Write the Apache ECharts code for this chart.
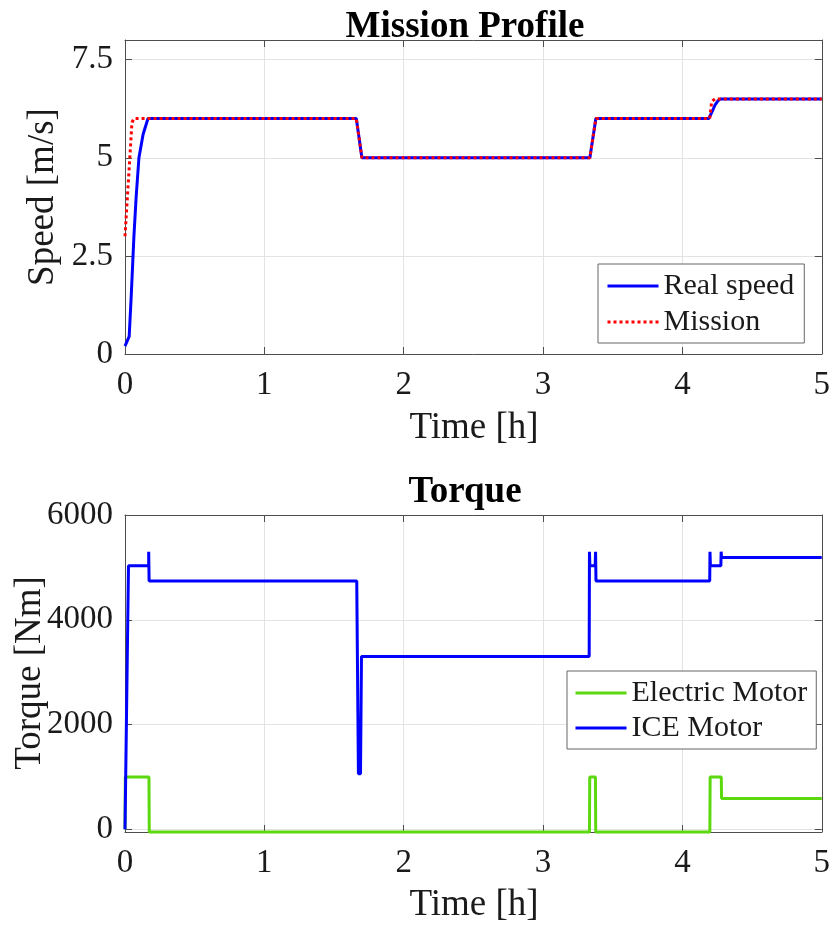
<!DOCTYPE html>
<html>
<head>
<meta charset="utf-8">
<script src="https://cdn.jsdelivr.net/npm/echarts@6/dist/echarts.min.js"></script>
<style>
  html, body { margin: 0; padding: 0; background: #fff; }
  #chart { width: 833px; height: 939px; }
</style>
</head>
<body>
<div id="chart"></div>
<script>
// ---- Mission profile: speed vs time ----
const realTime  = [0, 0.03, 0.045, 0.064, 0.08, 0.1, 0.13, 0.165, 1.66, 1.70, 3.336, 3.379, 4.19, 4.21, 4.235, 4.255, 4.275, 5];
const realSpeed = [0.2, 0.45, 1.5, 3.0, 4.0, 5.0, 5.6, 6.0, 6.0, 5.0, 5.0, 6.0, 6.0, 6.15, 6.35, 6.45, 6.5, 6.5];

const missionTime  = [0, 0.005, 0.05, 0.065, 1.66, 1.70, 3.336, 3.379, 4.196, 4.21, 4.234, 5];
const missionSpeed = [3.0, 3.0, 5.9, 6.0, 6.0, 5.0, 5.0, 6.0, 6.0, 6.43, 6.5, 6.5];

// ---- Torque vs time ----
const iceTime   = [0, 0.012, 0.025, 0.170, 0.170, 0.173, 1.663, 1.675, 1.690, 1.697, 3.331, 3.333, 3.336, 3.374, 3.377, 3.380, 4.196, 4.198, 4.201, 4.276, 4.278, 4.281, 5];
const iceTorque = [0, 0, 5030, 5030, 5300, 4740, 4740, 1060, 1060, 3300, 3300, 5300, 5030, 5030, 5300, 4740, 4740, 5300, 5030, 5030, 5300, 5190, 5190];

const emTime   = [0, 0.002, 0.172, 0.174, 3.333, 3.335, 3.376, 3.378, 4.197, 4.199, 4.279, 4.281, 5];
const emTorque = [0, 1000, 1000, -50, -50, 1000, 1000, -50, -50, 1000, 1000, 590, 590];

const timeTicks   = [0, 1, 2, 3, 4, 5];
const speedTicks  = [0, 2.5, 5, 7.5];
const torqueTicks = [0, 2000, 4000, 6000];

const zip = (xs, ys) => xs.map((x, i) => [x, ys[i]]);

const FONT = 'Liberation Serif';
const AX = '#4d4d4d';
const GRIDC = '#e3e3e3';
const TXT = '#1a1a1a';

function xAx(grid, pos, main) {
  return {
    type: 'value', gridIndex: grid, position: pos,
    min: 0, max: 5, interval: 1,
    axisLine: { show: true, onZero: false, lineStyle: { color: AX, width: 1 } },
    axisTick: { show: true, inside: true, length: 7, lineStyle: { color: AX } },
    axisLabel: { show: main, margin: 15, color: TXT, fontFamily: FONT, fontSize: 33,
                 formatter: v => (timeTicks.indexOf(v) >= 0 ? String(v) : '') },
    splitLine: { show: main, lineStyle: { color: GRIDC, width: 1 } }
  };
}

function yAx(grid, pos, main, extra) {
  return Object.assign({
    type: 'value', gridIndex: grid, position: pos,
    axisLine: { show: true, onZero: false, lineStyle: { color: AX, width: 1 } },
    axisTick: { show: true, inside: true, length: 7, lineStyle: { color: AX } },
    axisLabel: { show: main, margin: 12, color: TXT, fontFamily: FONT, fontSize: 33 },
    splitLine: { show: main, lineStyle: { color: GRIDC, width: 1 } }
  }, extra);
}

const speedAxis = { min: 0, max: 8, interval: 2.5 };
const torqueAxis = { min: -50, max: 6000 };

const topY = [yAx(0, 'left', true, speedAxis), yAx(0, 'right', false, speedAxis)];
topY[0].axisLabel.showMaxLabel = false;
topY[0].axisLabel.formatter = v => (speedTicks.indexOf(v) >= 0 ? String(v) : '');

const botY = [yAx(1, 'left', true, torqueAxis), yAx(1, 'right', false, torqueAxis)];
botY.forEach(a => { a.axisTick.customValues = torqueTicks; });
botY[0].axisLabel.customValues = torqueTicks;
botY[0].axisLabel.formatter = v => String(v);

const chart = echarts.init(document.getElementById('chart'), null, { renderer: 'canvas' });

const legendBase = {
  orient: 'vertical',
  itemWidth: 51, itemHeight: 30, itemGap: 6,
  padding: [7, 10, 6, 8],
  borderColor: '#666', borderWidth: 1, borderRadius: 0,
  backgroundColor: '#fff',
  itemStyle: { opacity: 0, borderWidth: 0 },
  lineStyle: { width: 3 },
  textStyle: { fontFamily: FONT, fontSize: 30, color: TXT, lineHeight: 30 }
};

chart.setOption({
  animation: false,
  backgroundColor: '#fff',
  grid: [
    { left: 125, width: 698, top: 40, height: 314 },
    { left: 125, width: 698, top: 515, height: 317 }
  ],
  xAxis: [xAx(0, 'bottom', true), xAx(0, 'top', false), xAx(1, 'bottom', true), xAx(1, 'top', false)],
  yAxis: [topY[0], topY[1], botY[0], botY[1]],
  legend: [
    Object.assign({}, legendBase, { left: 598, top: 264, data: ['Real speed', 'Mission'] }),
    Object.assign({}, legendBase, { left: 567, top: 671, padding: [7, 9, 6, 7], itemGap: 5, data: ['Electric Motor', 'ICE Motor'] })
  ],
  series: [
    { name: 'Real speed', type: 'line', xAxisIndex: 0, yAxisIndex: 0, data: zip(realTime, realSpeed),
      showSymbol: false, symbol: 'none', lineStyle: { color: '#0000ff', width: 3 }, itemStyle: { color: '#0000ff' }, z: 3 },
    { name: 'Mission', type: 'line', xAxisIndex: 0, yAxisIndex: 0, data: zip(missionTime, missionSpeed),
      showSymbol: false, symbol: 'none', lineStyle: { color: '#ff0000', width: 3, type: [3, 3] }, itemStyle: { color: '#ff0000' }, z: 4 },
    { name: 'Electric Motor', type: 'line', xAxisIndex: 2, yAxisIndex: 2, data: zip(emTime, emTorque), clip: false,
      showSymbol: false, symbol: 'none', lineStyle: { color: '#5cd80f', width: 3 }, itemStyle: { color: '#5cd80f' }, z: 3 },
    { name: 'ICE Motor', type: 'line', xAxisIndex: 2, yAxisIndex: 2, data: zip(iceTime, iceTorque), clip: false,
      showSymbol: false, symbol: 'none', lineStyle: { color: '#0000ff', width: 3 }, itemStyle: { color: '#0000ff' }, z: 4 }
  ],
  graphic: [
    { type: 'text', x: 465, y: 27, style: { text: 'Mission Profile', font: 'bold 37px "Liberation Serif"', fill: '#000', textAlign: 'center', textVerticalAlign: 'middle' } },
    { type: 'text', x: 465, y: 492, style: { text: 'Torque', font: 'bold 37px "Liberation Serif"', fill: '#000', textAlign: 'center', textVerticalAlign: 'middle' } },
    { type: 'text', x: 474, y: 428, style: { text: 'Time [h]', font: '37px "Liberation Serif"', fill: TXT, textAlign: 'center', textVerticalAlign: 'middle' } },
    { type: 'text', x: 474, y: 905, style: { text: 'Time [h]', font: '37px "Liberation Serif"', fill: TXT, textAlign: 'center', textVerticalAlign: 'middle' } },
    { type: 'text', x: 43, y: 197, rotation: Math.PI / 2, style: { text: 'Speed [m/s]', font: '37px "Liberation Serif"', fill: TXT, textAlign: 'center', textVerticalAlign: 'middle' } },
    { type: 'text', x: 30, y: 673, rotation: Math.PI / 2, style: { text: 'Torque [Nm]', font: '37px "Liberation Serif"', fill: TXT, textAlign: 'center', textVerticalAlign: 'middle' } }
  ]
});
</script>
</body>
</html>
